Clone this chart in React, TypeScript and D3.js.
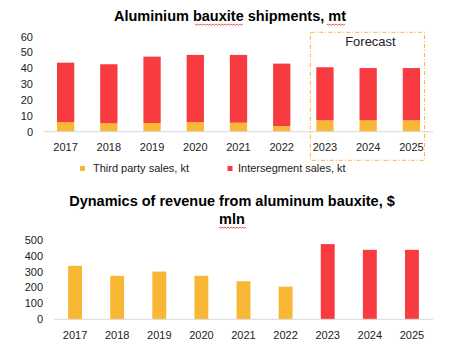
import React from "react";
import * as d3 from "d3";

const years = ["2017", "2018", "2019", "2020", "2021", "2022", "2023", "2024", "2025"];
const thirdParty = [6.1, 5.3, 5.5, 6.1, 5.7, 3.6, 7.2, 7.2, 7.2];
const intersegment = [37.5, 37.3, 41.9, 42.4, 42.8, 39.4, 33.5, 33.0, 33.0];
const revenue = [337, 274, 301, 274, 240, 206, 474, 438, 438];
const forecastYears = ["2023", "2024", "2025"];
const topTicks = [0, 10, 20, 30, 40, 50, 60];
const bottomTicks = [0, 100, 200, 300, 400, 500];

const ORANGE = "#F8B735";
const RED = "#F73B41";
const FONT = "'Liberation Sans', Arial, sans-serif";

function squiggle(x1: number, x2: number, y: number) {
  let d = `M${x1},${y}`;
  for (let x = x1, i = 0; x < x2; x += 1.5, i++) {
    d += ` L${x + 1.5},${y + (i % 2 === 0 ? 1.2 : 0)}`;
  }
  return d;
}

export default function App() {
  const W = 468, H = 355;
  // top chart
  const x1 = d3.scaleBand<string>().domain(years).range([44, 433]).paddingInner(0.6).paddingOuter(0.3);
  const y1 = d3.scaleLinear().domain([0, 60]).range([131.7, 36.7]);
  const stackData = years.map((yr, i) => ({ year: yr, third: thirdParty[i], inter: intersegment[i] }));
  const stack = d3.stack<any>().keys(["third", "inter"])(stackData);
  const colors = [ORANGE, RED];

  // bottom chart
  const x2 = d3.scaleBand<string>().domain(years).range([54, 433]).paddingInner(0.67).paddingOuter(0.335);
  const y2 = d3.scaleLinear().domain([0, 500]).range([319.3, 240]);

  const fx0 = x1(forecastYears[0])! - 6;
  const fx1 = x1(forecastYears[forecastYears.length - 1])! + x1.bandwidth() + 4.5;

  return (
    <svg width={W} height={H} style={{ position: "absolute", left: 0, top: 0 }} fontFamily={FONT}>
      <rect width={W} height={H} fill="#fff" />
      {/* Top title */}
      <text x={230} y={21} textAnchor="middle" fontSize={14.5} fontWeight="bold" fill="#000">
        Aluminium bauxite shipments, mt
      </text>
      <path d={squiggle(195, 243, 24)} stroke="#e03030" strokeWidth={0.8} fill="none" />
      <path d={squiggle(327, 344, 24)} stroke="#e03030" strokeWidth={0.8} fill="none" />
      {/* y ticks */}
      {topTicks.map((t) => (
        <text key={t} x={33} y={y1(t)} dy="0.35em" textAnchor="end" fontSize={11} fill="#222">
          {t}
        </text>
      ))}
      {/* bars */}
      {stack.map((s, si) =>
        s.map((d, i) => (
          <rect
            key={`${si}-${i}`}
            x={x1(years[i])}
            y={y1(d[1])}
            width={x1.bandwidth()}
            height={y1(d[0]) - y1(d[1])}
            fill={colors[si]}
          />
        ))
      )}
      <line x1={44} x2={433} y1={131.7} y2={131.7} stroke="#d9d9d9" strokeWidth={1} />
      {years.map((yr) => (
        <text key={yr} x={x1(yr)! + x1.bandwidth() / 2} y={150.5} textAnchor="middle" fontSize={11} fill="#222">
          {yr}
        </text>
      ))}
      {/* forecast box */}
      <rect x={fx0} y={32.3} width={fx1 - fx0} height={128} fill="none" stroke={ORANGE} strokeWidth={1} strokeDasharray="4 2 1 2" />
      <text x={(fx0 + fx1) / 2 + 3} y={46} textAnchor="middle" fontSize={13} fill="#222">
        Forecast
      </text>
      {/* legend */}
      <rect x={80} y={166} width={5} height={5} fill={ORANGE} />
      <text x={93} y={171.5} fontSize={11} fill="#222">Third party sales, kt</text>
      <rect x={227.5} y={166} width={5} height={5} fill={RED} />
      <text x={238} y={171.5} fontSize={11} fill="#222">Intersegment sales, kt</text>

      {/* Bottom title */}
      <text x={232} y={206} textAnchor="middle" fontSize={14.5} fontWeight="bold" fill="#000">
        Dynamics of revenue from aluminum bauxite, $
      </text>
      <text x={232} y={224} textAnchor="middle" fontSize={14.5} fontWeight="bold" fill="#000">
        mln
      </text>
      <path d={squiggle(219, 245, 227)} stroke="#e03030" strokeWidth={0.8} fill="none" />
      {bottomTicks.map((t) => (
        <text key={t} x={43} y={y2(t)} dy="0.35em" textAnchor="end" fontSize={11} fill="#222">
          {t}
        </text>
      ))}
      {years.map((yr, i) => (
        <rect
          key={yr}
          x={x2(yr)}
          y={y2(revenue[i])}
          width={x2.bandwidth()}
          height={y2(0) - y2(revenue[i])}
          fill={forecastYears.includes(yr) ? RED : ORANGE}
        />
      ))}
      <line x1={54} x2={433} y1={319.3} y2={319.3} stroke="#d9d9d9" strokeWidth={1} />
      {years.map((yr) => (
        <text key={yr} x={x2(yr)! + x2.bandwidth() / 2} y={338.5} textAnchor="middle" fontSize={11} fill="#222">
          {yr}
        </text>
      ))}
    </svg>
  );
}
